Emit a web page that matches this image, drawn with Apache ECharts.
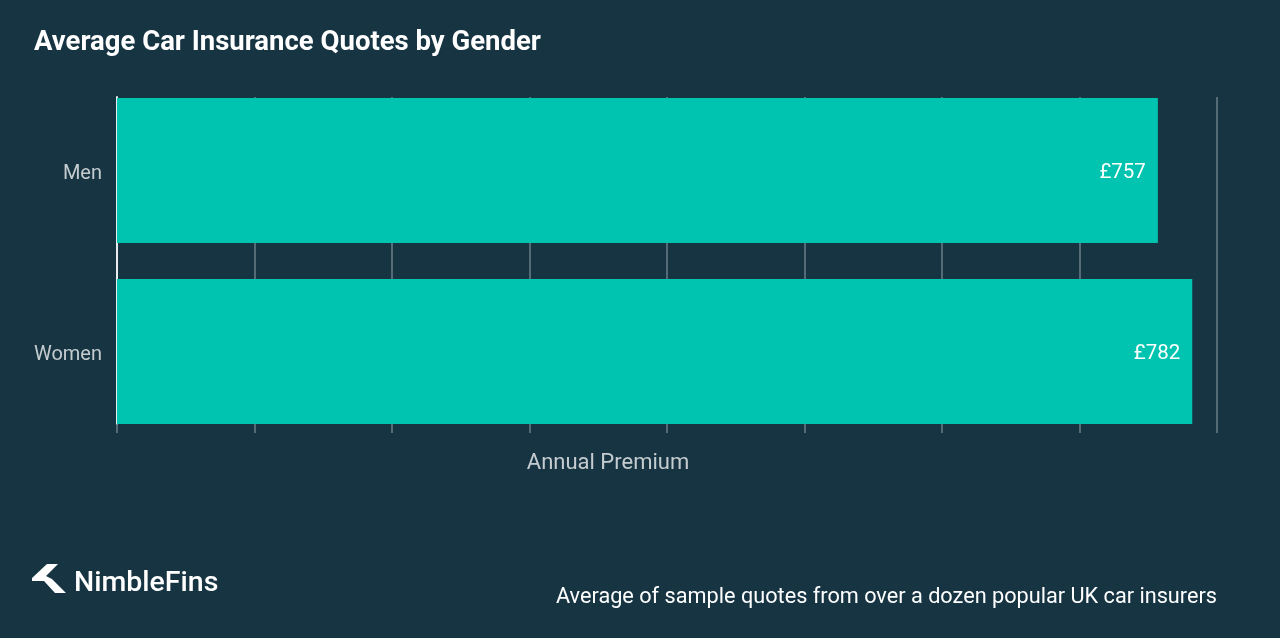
<!DOCTYPE html>
<html>
<head>
<meta charset="utf-8">
<script src="https://cdn.jsdelivr.net/npm/echarts@6/dist/echarts.min.js"></script>
<style>
html,body{margin:0;padding:0;background:#163442;}
#chart{width:1280px;height:638px;}
</style>
</head>
<body>
<div id="chart"></div>
<script>
const categories = ['Men', 'Women'];
const premiums = [757, 782];
const valueLabelPrefix = '£';
const axisMin = 0, axisMax = 800, axisInterval = 100;

const chart = echarts.init(document.getElementById('chart'), null, {renderer: 'canvas'});
const FONT = 'Roboto';
const option = {
  backgroundColor: '#163442',
  animation: false,
  title: {
    text: 'Average Car Insurance Quotes by Gender',
    left: 29, top: 24,
    textStyle: {color: '#ffffff', fontFamily: FONT, fontSize: 27.5, fontWeight: 'bold'}
  },
  grid: [
    {left: 117, right: 63, top: 80, height: 362, containLabel: false},
    {left: 117, right: 63, top: 97, height: 327, containLabel: false}
  ],
  xAxis: [
    {gridIndex: 0, type: 'value', min: axisMin, max: axisMax, interval: axisInterval,
     show: false, splitLine: {show: false}},
    {gridIndex: 1, type: 'value', min: axisMin, max: axisMax, interval: axisInterval,
     axisLine: {show: false},
     axisTick: {show: true, length: 9, lineStyle: {color: '#6b7f88', width: 1.5}},
     axisLabel: {show: false},
     splitLine: {show: true, lineStyle: {color: '#6b7f88', width: 1.5}},
     name: 'Annual Premium', nameLocation: 'middle', nameGap: 28,
     nameTextStyle: {color: '#c5ccd0', fontFamily: FONT, fontSize: 22, padding: [0, 118, 0, 0]}}
  ],
  yAxis: [
    {gridIndex: 0, type: 'category', data: categories, inverse: true,
     axisLine: {show: false}, axisTick: {show: false},
     axisLabel: {margin: 15, formatter: v => '{a|' + v + '}',
       rich: {a: {color: '#c5ccd0', fontFamily: FONT, fontSize: 20, padding: [6, 0, 0, 0]}}}},
    {gridIndex: 1, type: 'category', data: categories, inverse: true,
     axisLine: {show: true, lineStyle: {color: '#e8ecee', width: 2}},
     axisTick: {show: false}, axisLabel: {show: false}, splitLine: {show: false}}
  ],
  series: [{
    type: 'bar', xAxisIndex: 0, yAxisIndex: 0, z: 3,
    data: premiums, barWidth: 145,
    itemStyle: {color: '#00c4b0'},
    label: {show: true, position: 'insideRight', distance: 12, offset: [0, 2],
      formatter: p => valueLabelPrefix + p.value,
      color: '#ffffff', fontFamily: FONT, fontSize: 20.5}
  }],
  graphic: [
    {type: 'polygon', left: 32, top: 564, z: 10,
     shape: {points: [[0,14],[15,0],[26,0],[14,12],[20,15],[34,29],[23,29],[12,17],[0,17]]},
     style: {fill: '#ffffff'}},
    {type: 'text', left: 74, top: 569, z: 10,
     style: {text: 'NimbleFins', fill: '#ffffff', font: '500 28.5px Roboto'}},
    {type: 'text', right: 63, top: 587, z: 10,
     style: {text: 'Average of sample quotes from over a dozen popular UK car insurers', fill: '#ffffff', font: '21.7px Roboto', textAlign: 'right'}}
  ]
};
chart.setOption(option);
</script>
</body>
</html>
